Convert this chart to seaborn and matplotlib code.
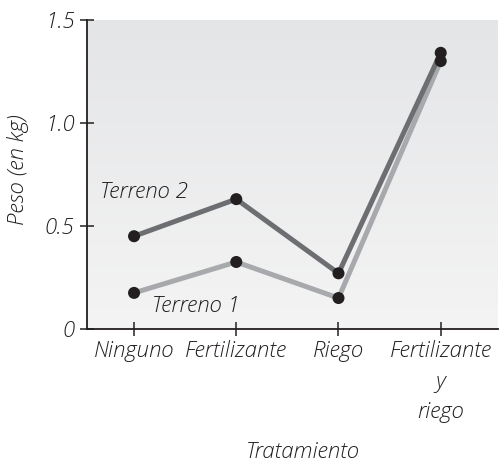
import numpy as np
import pandas as pd
import matplotlib
matplotlib.use("Agg")
import matplotlib.pyplot as plt
import seaborn as sns
from matplotlib.colors import LinearSegmentedColormap

# Weight (kg) per treatment for each plot of land
tratamientos = ["Ninguno", "Fertilizante", "Riego", "Fertilizante\ny\nriego"]
terreno_1 = [0.175, 0.325, 0.15, 1.30]
terreno_2 = [0.45, 0.63, 0.27, 1.34]
y_ticks = [0, 0.5, 1.0, 1.5]
y_tick_labels = ["0", "0.5", "1.0", "1.5"]

df = pd.DataFrame({
    "Tratamiento": tratamientos * 2,
    "Peso": terreno_1 + terreno_2,
    "Terreno": ["Terreno 1"] * 4 + ["Terreno 2"] * 4,
})

sns.set_theme(style="white")
plt.rcParams["font.family"] = ["Open Sans", "DejaVu Sans"]
ink = "#231f20"
font = dict(style="italic", weight=300, color=ink)
fs = 16

fig = plt.figure(figsize=(5.03, 4.62), dpi=100)
ax = fig.add_axes([0.173, 0.288, 0.817, 0.669])

# soft vertical gradient behind the plot area (darker at the top)
grad = np.linspace(0, 1, 256).reshape(-1, 1)
cmap = LinearSegmentedColormap.from_list("bg", ["#e4e5e7", "#f4f4f4"])
ax.imshow(grad, extent=[0, 1, 0, 1], origin="upper", transform=ax.transAxes,
          cmap=cmap, aspect="auto", zorder=0)

palette = {"Terreno 1": "#a7a9ac", "Terreno 2": "#6d6e71"}
sns.lineplot(data=df, x="Tratamiento", y="Peso", hue="Terreno", sort=False,
             palette=palette, linewidth=3.6, legend=False, ax=ax, zorder=2)
sns.scatterplot(data=df, x="Tratamiento", y="Peso", color=ink, s=75,
                edgecolor="none", legend=False, ax=ax, zorder=3)

ax.set_xlim(-0.46, 3.56)
ax.set_ylim(0, 1.5)
ax.set_yticks(y_ticks)
ax.set_yticklabels(y_tick_labels, fontsize=fs, **font)
ax.set_xticks(range(len(tratamientos)))
ax.set_xticklabels(tratamientos, fontsize=fs, linespacing=1.5, va="top", **font)
ax.tick_params(axis="both", direction="inout", length=10, width=1.1,
               color=ink, pad=4, bottom=True, left=True)
ax.tick_params(axis="x", pad=3)

for side in ["top", "right"]:
    ax.spines[side].set_visible(False)
for side in ["left", "bottom"]:
    ax.spines[side].set_color(ink)
    ax.spines[side].set_linewidth(1.3)
    ax.spines[side].set_zorder(4)

ax.set_xlabel("")
ax.set_ylabel("")
fig.text(0.035, 0.632, "Peso (en kg)", rotation=90, ha="center", va="center",
         fontsize=fs, **font)
fig.text(0.602, 0.022, "Tratamiento", ha="center", va="center",
         fontsize=fs, **font)

ax.text(-0.33, 0.665, "Terreno 2", fontsize=fs, ha="left", va="center", **font)
ax.text(0.18, 0.11, "Terreno 1", fontsize=fs, ha="left", va="center", **font)

fig.savefig("out.png", dpi=100)
